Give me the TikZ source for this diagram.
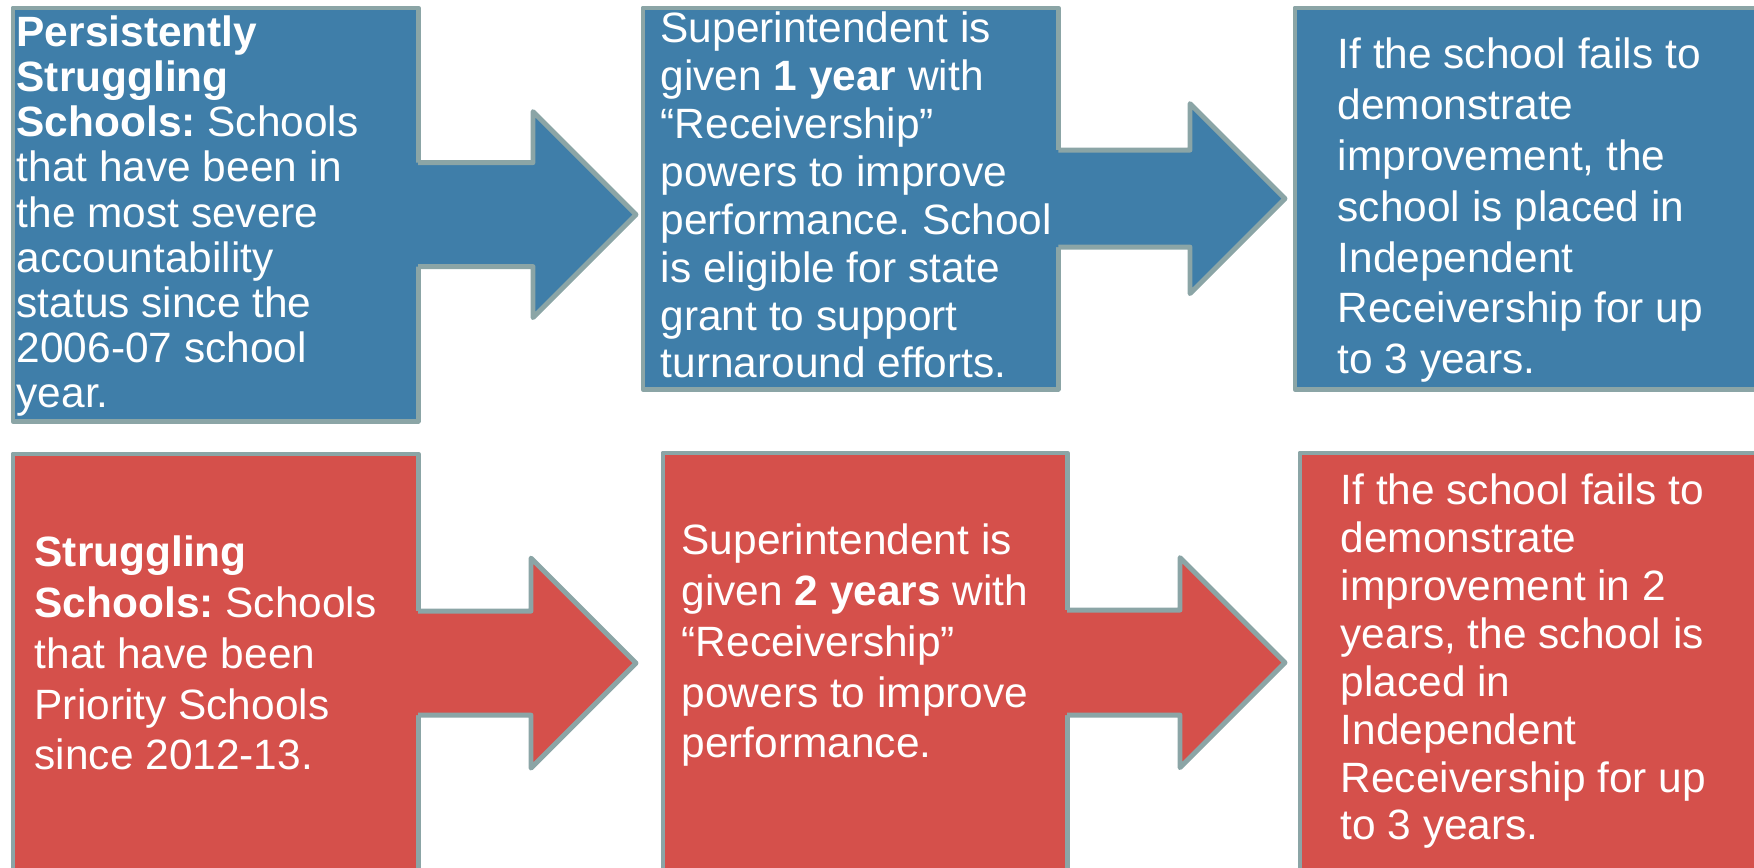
\documentclass[tikz,border=0pt]{standalone}
\usepackage{fontspec}
\setmainfont{Liberation Sans}
\usetikzlibrary{calc}
\definecolor{recblue}{HTML}{3F7EA9}
\definecolor{recred}{HTML}{D5504B}
\definecolor{recrim}{HTML}{8BA5A6}
\frenchspacing

% block arrow between two stage boxes
% #1 fill, #2 from box, #3 to box, #4 gap before tip, #5 half shaft, #6 head size
\newcommand{\stagearrow}[6]{%
  \coordinate (tip) at ($(#3.west |- #2.east)+(-#4,0)$);
  \fill[#1] ($(#2.east)+(-12,-#5)$) -- ($(tip)+(-#6,-#5)$) -- ($(tip)+(-#6,-#6)$) -- (tip)
    -- ($(tip)+(-#6,#6)$) -- ($(tip)+(-#6,#5)$) -- ($(#2.east)+(-12,#5)$) -- cycle;
  \draw[rim] ($(#2.east)+(0,-#5)$) -- ($(tip)+(-#6,-#5)$) -- ($(tip)+(-#6,-#6)$) -- (tip)
    -- ($(tip)+(-#6,#6)$) -- ($(tip)+(-#6,#5)$) -- ($(#2.east)+(0,#5)$);}

\begin{document}
\begin{tikzpicture}[x=0.01cm, y=-0.01cm,
  rim/.style={draw=recrim, line width=1.4pt, line join=round},
  stage/.style={rim, anchor=north west, outer sep=0pt, inner sep=0pt},
  bluestage/.style={stage, fill=recblue},
  redstage/.style={stage, fill=recred},
  txt/.style={anchor=base west, align=left, inner sep=0pt, text=white,
    font=\fontsize{12.06pt}{#1}\selectfont}]
\clip (0,0) rectangle (1754,868);
% top row
\node[bluestage, minimum width=4.05cm, minimum height=4.13cm] (persist) at (13,8) {};
\node[bluestage, minimum width=4.15cm, minimum height=3.81cm] (supone) at (643,8) {};
\node[bluestage, minimum width=5cm, minimum height=3.81cm] (indepone) at (1295,8) {};
% bottom row
\node[redstage, minimum width=4.05cm, minimum height=4.18cm] (strug) at (13,454) {};
\node[redstage, minimum width=4.04cm, minimum height=4.19cm] (suptwo) at (663,453) {};
\node[redstage, minimum width=5cm, minimum height=4.19cm] (indeptwo) at (1300,453) {};
% arrows
\stagearrow{recblue}{persist}{supone}{7}{52}{103}
\stagearrow{recblue}{supone}{indepone}{10}{48.5}{95}
\stagearrow{recred}{strug}{suptwo}{27}{52}{105}
\stagearrow{recred}{suptwo}{indeptwo}{15}{52.5}{105}
% texts (placed by the baseline of their last line)
\node[txt=12.86pt] (persisttxt) at (16,408) {\textbf{Persistently}\\\textbf{Struggling}\\\textbf{Schools:} Schools\\that have been in\\the most severe\\accountability\\status since the\\2006-07 school\\year.};
\node[txt=13.63pt] (suponetxt) at (660,378) {Superintendent is\\given \textbf{1 year} with\\“Receivership”\\powers to improve\\performance. School\\is eligible for state\\grant to support\\turnaround efforts.};
\node[txt=14.5pt] (indeponetxt) at (1337,374) {If the school fails to\\demonstrate\\improvement, the\\school is placed in\\Independent\\Receivership for up\\to 3 years.};
\node[txt=14.45pt] (strugtxt) at (34,770) {\textbf{Struggling}\\\textbf{Schools:} Schools\\that have been\\Priority Schools\\since 2012-13.};
\node[txt=14.45pt] (suptwotxt) at (681,758) {Superintendent is\\given \textbf{2 years} with\\“Receivership”\\powers to improve\\performance.};
\node[txt=13.63pt] (indeptwotxt) at (1340,840) {If the school fails to\\demonstrate\\improvement in 2\\years, the school is\\placed in\\Independent\\Receivership for up\\to 3 years.};
\end{tikzpicture}
\end{document}
